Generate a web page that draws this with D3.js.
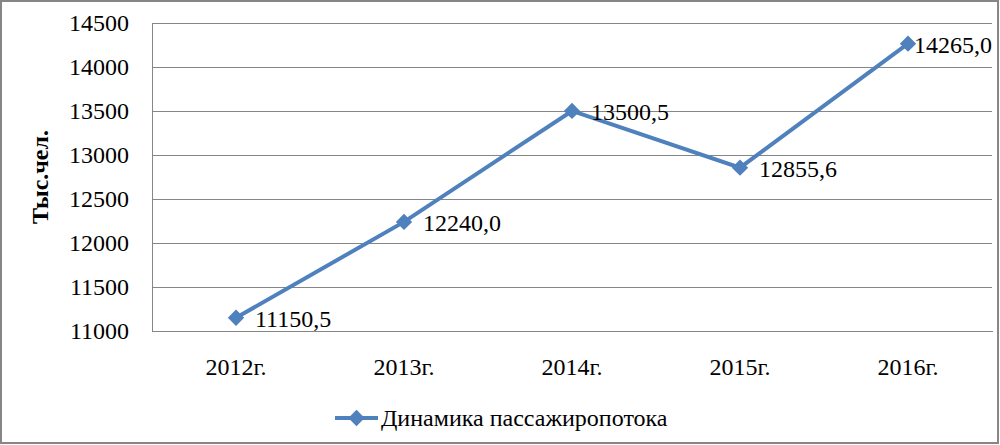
<!DOCTYPE html>
<html><head><meta charset="utf-8">
<script src="https://cdn.jsdelivr.net/npm/d3@7"></script>
<style>body{margin:0;background:#fff}svg{display:block}
svg text{font-family:"Liberation Serif","Times New Roman",Tinos,serif;}</style>
</head><body>
<svg id="c" width="1000" height="445"></svg>
<script>
const categories = ["2012г.", "2013г.", "2014г.", "2015г.", "2016г."];
const values = [11150.5, 12240.0, 13500.5, 12855.6, 14265.0];
const labels = ["11150,5", "12240,0", "13500,5", "12855,6", "14265,0"];
const yTicks = [11000, 11500, 12000, 12500, 13000, 13500, 14000, 14500];
const seriesName = "Динамика пассажиропотока";
const yTitle = "Тыс.чел.";

const svg = d3.select("#c");
const fs = 24;
const color = "#4F81BD";
svg.append("rect").attr("x",1).attr("y",1).attr("width",997).attr("height",442)
  .attr("fill","#fff").attr("stroke","#868686").attr("stroke-width",2);

const L=152, R=992, T=23, B=331;
const x = d3.scaleBand().domain(categories).range([L,R]);
const y = d3.scaleLinear().domain([11000,14500]).range([B,T]);

const g = svg.append("g");
g.selectAll(".grid").data(yTicks).join("line")
  .attr("x1",L).attr("x2",R).attr("y1",d=>y(d)).attr("y2",d=>y(d))
  .attr("stroke","#868686").attr("stroke-width",1).attr("shape-rendering","crispEdges");
const ya = g.append("g").attr("transform",`translate(${L},0)`)
  .call(d3.axisLeft(y).tickValues(yTicks).tickSize(0).tickPadding(23).tickFormat(d3.format("d")));
ya.attr("font-family",null).attr("font-size",null);
ya.select(".domain").attr("stroke","#868686").attr("shape-rendering","crispEdges");
ya.selectAll("text").attr("font-size",fs).attr("fill","#000");
const xa = g.append("g").attr("transform",`translate(0,${B})`)
  .call(d3.axisBottom(x).tickSize(0).tickPadding(27));
xa.attr("font-family",null).attr("font-size",null);
xa.select(".domain").attr("stroke","#868686").attr("shape-rendering","crispEdges");
xa.selectAll("text").attr("font-size",fs).attr("fill","#000");

svg.append("text").attr("transform",`translate(48,177) rotate(-90)`)
  .attr("text-anchor","middle").attr("font-size",fs)
  .attr("font-weight","bold").text(yTitle);

const cx = d=>x(d)+x.bandwidth()/2;
const line = d3.line().x((d,i)=>cx(categories[i])).y(d=>y(d));
g.append("path").datum(values).attr("d",line).attr("fill","none")
  .attr("stroke",color).attr("stroke-width",4);
const diamond = d3.symbol().type(d3.symbolDiamond2).size(170);
g.selectAll(".pt").data(values).join("path")
  .attr("d",diamond).attr("fill",color)
  .attr("transform",(d,i)=>`translate(${cx(categories[i])},${y(d)})`);
g.selectAll(".lbl").data(values).join("text")
  .attr("x",(d,i)=>cx(categories[i])+19).attr("y",d=>y(d)+9)
  .attr("font-size",fs).attr("fill","#000")
  .text((d,i)=>labels[i])
  .each(function(){
    const bb=this.getBBox();
    if(bb.x+bb.width>R) d3.select(this).attr("x",R-bb.width);
  });

const lg = svg.append("g").attr("transform","translate(335,418)");
lg.append("line").attr("x1",0).attr("x2",43).attr("stroke",color).attr("stroke-width",4);
lg.append("path").attr("d",diamond).attr("fill",color).attr("transform","translate(21.5,0)");
lg.append("text").attr("x",46).attr("y",8).attr("font-size",fs).text(seriesName);
</script>
</body></html>
